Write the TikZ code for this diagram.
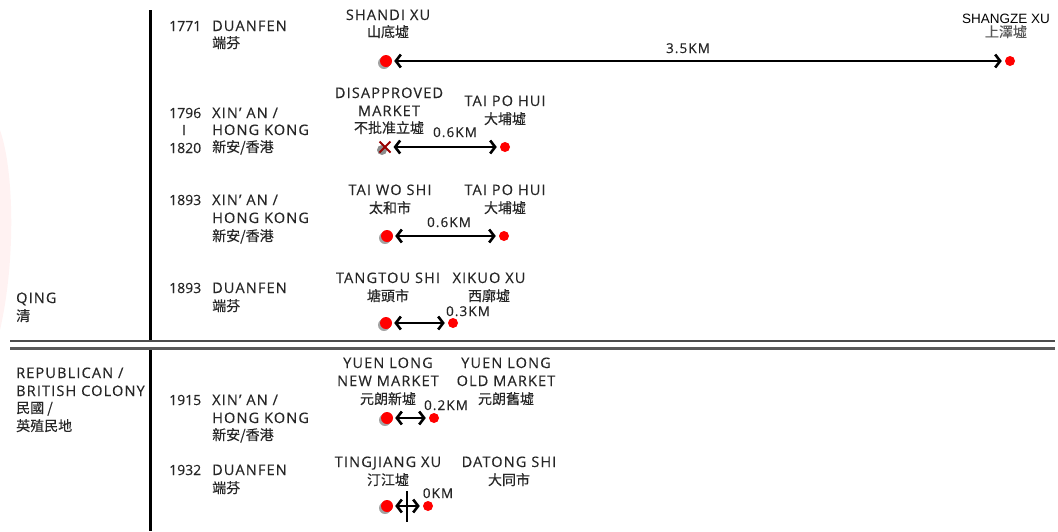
\documentclass[tikz,border=0pt]{standalone}
\usepackage{fontspec}
\newfontfamily\lat[LetterSpace=8,FakeBold=0.3]{Open Sans}
\newfontfamily\latn[FakeBold=0.3]{Open Sans}
\newfontfamily\cjk[FakeBold=0.3]{Noto Sans CJK TC}
\newfontfamily\ari{Liberation Sans}
\usetikzlibrary{arrows.meta,shadows,shapes.misc}
\tikzset{
  en/.style={font=\lat\fontsize{14.5}{16}\selectfont, inner sep=0, anchor=base, text=black!85},
  enw/.style={en, anchor=base west},
  yr/.style={font=\latn\fontsize{14}{16}\selectfont, inner sep=0, anchor=base west, text=black!85},
  zh/.style={font=\cjk\fontsize{14}{16}\selectfont, inner sep=0, anchor=base, text=black!85},
  zhw/.style={zh, anchor=base west},
  km/.style={font=\lat\fontsize{13.5}{15}\selectfont, inner sep=0, anchor=base, text=black!85},
  bigdot/.style={circle, fill=red, draw=none, inner sep=0, minimum size=12pt,
     drop shadow={shadow xshift=-2pt, shadow yshift=-2pt, fill=black!45, opacity=0.8}},
  smalldot/.style={circle, fill=red, draw=none, inner sep=0, minimum size=10pt},
  dist/.style={line width=2.6pt, {Straight Barb[length=5pt,width=13pt,line width=2.6pt]}-{Straight Barb[length=5pt,width=13pt,line width=2.6pt]}},
  rule/.style={line width=3pt, black},
}
\begin{document}
\begin{tikzpicture}[x=1pt,y=-1pt]
\useasboundingbox (0,0) rectangle (1058,531);
% faint watermark at left edge
\fill[red!5] (0,130) .. controls (14,170) and (16,260) .. (0,330) -- cycle;
% frame lines
\draw[rule] (150,10) -- (150,340);
\draw[rule] (150,349) -- (150,531);
\draw[line width=1.5pt, black!70] (10,341) -- (1055,341);
\draw[line width=3pt, black!65] (10,348.5) -- (1055,348.5);

% period labels
\node[enw] (qing) at (16,303) {QING};
\node[zhw] (qingzh) at (16,321) {清};
\node[enw] (rep1) at (16,378) {REPUBLICAN /};
\node[enw] (rep2) at (16,396) {BRITISH COLONY};
\node[zhw] (rep3) at (16,413) {民國 /};
\node[zhw] (rep4) at (16,431) {英殖民地};

% row 1
\node[yr] (y1) at (169,31) {1771};
\node[enw] (p1) at (212,31) {DUANFEN};
\node[zhw] (p1z) at (212,48) {端芬};
\node[en] (n1a) at (388,20) {SHANDI XU};
\node[zh] (n1az) at (388,37) {山底墟};
\node[font=\ari\fontsize{13.5}{15}\selectfont, inner sep=0, anchor=base] (n1b) at (1006,23) {SHANGZE XU};
\node[zh, text=black!65] (n1bz) at (1006,37) {上澤墟};
\node[bigdot] (d1a) at (386,61) {};
\node[smalldot] (d1b) at (1010,61) {};
\draw[dist] ([xshift=2pt]d1a.east) -- ([xshift=-3pt]d1b.west);
\node[km] (k1) at (688,53) {3.5KM};

% row 2
\node[yr] (y2a) at (169,118) {1796};
\node[yr, anchor=base] (y2b) at (184,135) {I};
\node[yr] (y2c) at (169,153) {1820};
\node[enw] (p2a) at (212,118) {XIN’\ AN /};
\node[enw] (p2b) at (212,135) {HONG KONG};
\node[zhw] (p2c) at (212,152) {新安/香港};
\node[en] (n2a1) at (389,98) {DISAPPROVED};
\node[en] (n2a2) at (389,116) {MARKET};
\node[zh] (n2az) at (389,133) {不批准立墟};
\node[en] (n2b) at (505,106) {TAI PO HUI};
\node[zh] (n2bz) at (505,124) {大埔墟};
\fill[black!45] (382,150) circle (5pt);
\node[draw=red!60!black, line width=2pt, cross out, inner sep=0, minimum size=9pt] (d2a) at (385,147) {};
\node[smalldot] (d2b) at (505,147) {};
\draw[dist] ([xshift=3pt]d2a.east) -- ([xshift=-3pt]d2b.west);
\node[km] (k2) at (455,137) {0.6KM};

% row 3
\node[yr] (y3) at (169,205) {1893};
\node[enw] (p3a) at (212,205) {XIN’\ AN /};
\node[enw] (p3b) at (212,223) {HONG KONG};
\node[zhw] (p3c) at (212,241) {新安/香港};
\node[en] (n3a) at (390,195) {TAI WO SHI};
\node[zh] (n3az) at (390,213) {太和市};
\node[en] (n3b) at (505,195) {TAI PO HUI};
\node[zh] (n3bz) at (505,213) {大埔墟};
\node[bigdot] (d3a) at (387,236) {};
\node[smalldot] (d3b) at (504,236) {};
\draw[dist] ([xshift=2pt]d3a.east) -- ([xshift=-3pt]d3b.west);
\node[km] (k3) at (449,227) {0.6KM};

% row 4
\node[yr] (y4) at (169,293) {1893};
\node[enw] (p4a) at (212,293) {DUANFEN};
\node[zhw] (p4b) at (212,311) {端芬};
\node[en] (n4a) at (388,283) {TANGTOU SHI};
\node[zh] (n4az) at (388,301) {塘頭市};
\node[en] (n4b) at (489,283) {XIKUO XU};
\node[zh] (n4bz) at (489,301) {西廓墟};
\node[bigdot] (d4a) at (386,323) {};
\node[smalldot] (d4b) at (453,323) {};
\draw[dist] ([xshift=2pt]d4a.east) -- ([xshift=-3pt]d4b.west);
\node[km] (k4) at (468,316) {0.3KM};

% row 5
\node[yr] (y5) at (169,405) {1915};
\node[enw] (p5a) at (212,405) {XIN’\ AN /};
\node[enw] (p5b) at (212,423) {HONG KONG};
\node[zhw] (p5c) at (212,440) {新安/香港};
\node[en] (n5a1) at (388,368) {YUEN LONG};
\node[en] (n5a2) at (388,386) {NEW MARKET};
\node[zh] (n5az) at (388,404) {元朗新墟};
\node[en] (n5b1) at (506,368) {YUEN LONG};
\node[en] (n5b2) at (506,386) {OLD MARKET};
\node[zh] (n5bz) at (506,404) {元朗舊墟};
\node[bigdot] (d5a) at (387,418) {};
\node[smalldot] (d5b) at (434,418) {};
\draw[dist] ([xshift=2pt]d5a.east) -- ([xshift=-3pt]d5b.west);
\node[km] (k5) at (446,410) {0.2KM};

% row 6
\node[yr] (y6) at (169,475) {1932};
\node[enw] (p6a) at (212,475) {DUANFEN};
\node[zhw] (p6b) at (212,493) {端芬};
\node[en] (n6a1) at (388,467) {TINGJIANG XU};
\node[zh] (n6az) at (388,485) {汀江墟};
\node[en] (n6b) at (509,467) {DATONG SHI};
\node[zh] (n6bz) at (509,485) {大同市};
\node[bigdot] (d6a) at (387,506) {};
\node[smalldot] (d6b) at (428,506) {};
\draw[dist] ([xshift=2pt]d6a.east) -- ([xshift=-3pt]d6b.west);
\coordinate (v6t) at (407,491);
\coordinate (v6b) at (407,522);
\draw[line width=2.5pt] (v6t) -- (v6b);
\node[km] (k6) at (438,498) {0KM};
\end{tikzpicture}
\end{document}
